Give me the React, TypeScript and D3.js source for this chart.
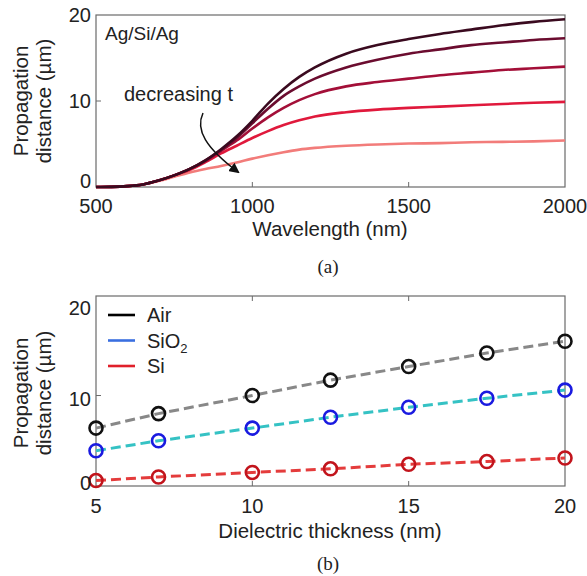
import React from "react";
import * as d3 from "d3";

// Panel (a): propagation distance vs wavelength for Ag/Si/Ag, several thicknesses
const wavelengths = [500, 550, 600, 650, 700, 750, 800, 850, 900, 950, 1000, 1050, 1100, 1150, 1200, 1300, 1400, 1500, 1600, 1700, 1800, 1900, 2000];
const curveT1 = [0, 0.02, 0.1, 0.3, 0.75, 1.35, 2.1, 3.1, 4.4, 5.9, 7.7, 9.7, 11.4, 12.8, 13.9, 15.5, 16.5, 17.2, 17.8, 18.3, 18.8, 19.2, 19.5];
const curveT2 = [0, 0.02, 0.1, 0.3, 0.75, 1.35, 2.1, 3.1, 4.3, 5.7, 7.4, 9.1, 10.6, 11.7, 12.6, 13.9, 14.8, 15.5, 16.0, 16.5, 16.8, 17.1, 17.3];
const curveT3 = [0, 0.02, 0.1, 0.3, 0.75, 1.35, 2.1, 3.0, 4.2, 5.4, 6.8, 8.1, 9.2, 10.1, 10.8, 11.7, 12.2, 12.6, 13.0, 13.3, 13.6, 13.8, 14.0];
const curveT4 = [0, 0.02, 0.1, 0.3, 0.75, 1.35, 2.0, 2.9, 3.9, 4.8, 5.7, 6.5, 7.2, 7.75, 8.2, 8.7, 9.0, 9.2, 9.35, 9.5, 9.65, 9.8, 9.9];
const curveT5 = [0, 0.02, 0.1, 0.3, 0.7, 1.2, 1.7, 2.1, 2.45, 2.85, 3.3, 3.7, 4.05, 4.35, 4.55, 4.8, 4.95, 5.05, 5.1, 5.2, 5.25, 5.3, 5.4];
const curveSet = [curveT1, curveT2, curveT3, curveT4, curveT5];
const curveColors = ["#3a0a1f", "#6b0c2f", "#a30f38", "#e0193c", "#f27c7a"];
const wlTicks = [500, 1000, 1500, 2000];
const distTicksA = [0, 10, 20];

// Panel (b): propagation distance vs dielectric thickness
const thickness = [5, 7, 10, 12.5, 15, 17.5, 20];
const airValues = [6.4, 8.0, 10.0, 11.7, 13.2, 14.7, 16.0];
const sio2Values = [3.9, 5.0, 6.4, 7.6, 8.7, 9.7, 10.6];
const siValues = [0.6, 1.0, 1.5, 1.9, 2.4, 2.7, 3.1];
const seriesNames = ["Air", "SiO2", "Si"];
const thickTicks = [5, 10, 15, 20];
const distTicksB = [0, 10, 20];

const FONT = "'Liberation Sans', Arial, Helvetica, sans-serif";
const SERIF = "'Liberation Serif', 'Times New Roman', serif";
const TXT = "#222";
const AXIS = "#6a6a6a";

// the lowest y label sits on the axis line rather than centred on its tick
const yLabelDy = (t: number) => (t === 0 ? 1 : 7);

export default function App() {
  // ---- panel (a) scales
  const xA = d3.scaleLinear().domain([500, 2000]).range([96, 565]);
  const yA = d3.scaleLinear().domain([0, 20]).range([187, 15]);
  const lineA = d3
    .line<number>()
    .x((_, i) => xA(wavelengths[i]))
    .y((v) => yA(v))
    .curve(d3.curveMonotoneX);

  // ---- panel (b) scales
  const xB = d3.scaleLinear().domain([5, 20]).range([96, 565]);
  const yB = d3.scaleLinear().domain([0, 21]).range([486, 296]);
  const lineB = d3
    .line<number>()
    .x((_, i) => xB(thickness[i]))
    .y((v) => yB(v));

  const seriesB = [
    { name: "Air", values: airValues, dash: "#888888", marker: "#111111", legend: "#000000" },
    { name: "SiO2", values: sio2Values, dash: "#35c2c4", marker: "#1a1ae0", legend: "#3a6fe0" },
    { name: "Si", values: siValues, dash: "#e43c3c", marker: "#c2141c", legend: "#e0202a" },
  ];

  const yTitle = (cx: number, cy: number) => (
    <g fontFamily={FONT} fontSize={20.5} fill={TXT} textAnchor="middle">
      <text transform={`translate(${cx - 12},${cy}) rotate(-90)`}>Propagation</text>
      <text transform={`translate(${cx + 11},${cy}) rotate(-90)`}>distance (µm)</text>
    </g>
  );

  return (
    <svg
      width={587}
      height={576}
      style={{ position: "absolute", left: 0, top: 0, background: "#fff" }}
    >
      <defs>
        <marker id="arrowHead" viewBox="0 0 10 10" refX="8" refY="5" markerWidth="7" markerHeight="7" orient="auto">
          <path d="M0,0 L10,5 L0,10 z" fill="#111" />
        </marker>
      </defs>

      {/* ================= panel (a) ================= */}
      <rect x={96} y={15} width={469} height={172} fill="none" stroke={AXIS} strokeWidth={1.2} />
      {wlTicks.slice(1, -1).map((t) => (
        <line key={t} x1={xA(t)} x2={xA(t)} y1={187} y2={182} stroke={AXIS} />
      ))}
      {distTicksA.slice(1, -1).map((t) => (
        <line key={t} x1={96} x2={101} y1={yA(t)} y2={yA(t)} stroke={AXIS} />
      ))}
      {curveSet
        .slice()
        .reverse()
        .map((vals, k) => {
          const idx = curveSet.length - 1 - k;
          return (
            <path key={idx} d={lineA(vals) || ""} fill="none" stroke={curveColors[idx]} strokeWidth={2.6} />
          );
        })}
      <g fontFamily={FONT} fontSize={20} fill={TXT}>
        {wlTicks.map((t) => (
          <text key={t} x={xA(t)} y={213} textAnchor="middle">{t}</text>
        ))}
        {distTicksA.map((t) => (
          <text key={t} x={91} y={yA(t) + yLabelDy(t)} textAnchor="end">{t}</text>
        ))}
      </g>
      <text x={330} y={236} fontFamily={FONT} fontSize={20.5} fill={TXT} textAnchor="middle">Wavelength (nm)</text>
      {yTitle(40, 101)}
      <text x={105} y={40} fontFamily={FONT} fontSize={19} fill={TXT}>Ag/Si/Ag</text>
      <text x={124} y={101} fontFamily={FONT} fontSize={20} fill={TXT}>decreasing t</text>
      <path d="M203,113 C195,130 206,148 238,172" fill="none" stroke="#111" strokeWidth={1.5} markerEnd="url(#arrowHead)" />
      <text x={328} y={273} fontFamily={SERIF} fontSize={19} fill={TXT} textAnchor="middle">(a)</text>

      {/* ================= panel (b) ================= */}
      <rect x={96} y={296} width={469} height={190} fill="none" stroke={AXIS} strokeWidth={1.2} />
      {thickTicks.slice(1, -1).map((t) => (
        <g key={t}>
          <line x1={xB(t)} x2={xB(t)} y1={486} y2={481} stroke={AXIS} />
          <line x1={xB(t)} x2={xB(t)} y1={296} y2={301} stroke={AXIS} />
        </g>
      ))}
      {distTicksB.slice(1, -1).map((t) => (
        <line key={t} x1={96} x2={101} y1={yB(t)} y2={yB(t)} stroke={AXIS} />
      ))}
      {seriesB.map((s) => (
        <path key={s.name + "-line"} d={lineB(s.values) || ""} fill="none" stroke={s.dash} strokeWidth={3} strokeDasharray="10 5" />
      ))}
      {seriesB.map((s) =>
        s.values.map((v, i) => (
          <circle key={s.name + i} cx={xB(thickness[i])} cy={yB(v)} r={6.5} fill="none" stroke={s.marker} strokeWidth={2.6} />
        ))
      )}
      <g fontFamily={FONT} fontSize={20} fill={TXT}>
        {thickTicks.map((t) => (
          <text key={t} x={xB(t)} y={513} textAnchor="middle">{t}</text>
        ))}
        {distTicksB.map((t) => (
          <text key={t} x={91} y={yB(t) + yLabelDy(t) + 3} textAnchor="end">{t}</text>
        ))}
      </g>
      {/* legend */}
      <g fontFamily={FONT} fontSize={20} fill={TXT}>
        {seriesB.map((s, i) => {
          const ly = 315 + i * 25.5;
          return (
            <g key={s.name + "-leg"}>
              <line x1={108} x2={135} y1={ly} y2={ly} stroke={s.legend} strokeWidth={2.6} />
              {s.name === "SiO2" ? (
                <text x={147} y={ly + 7}>
                  SiO<tspan fontSize={13} dy={5}>2</tspan>
                </text>
              ) : (
                <text x={147} y={ly + 7}>{seriesNames[i]}</text>
              )}
            </g>
          );
        })}
      </g>
      <text x={330} y={538} fontFamily={FONT} fontSize={20.5} fill={TXT} textAnchor="middle">Dielectric thickness (nm)</text>
      {yTitle(40, 393)}
      <text x={328} y={570} fontFamily={SERIF} fontSize={19} fill={TXT} textAnchor="middle">(b)</text>
    </svg>
  );
}
